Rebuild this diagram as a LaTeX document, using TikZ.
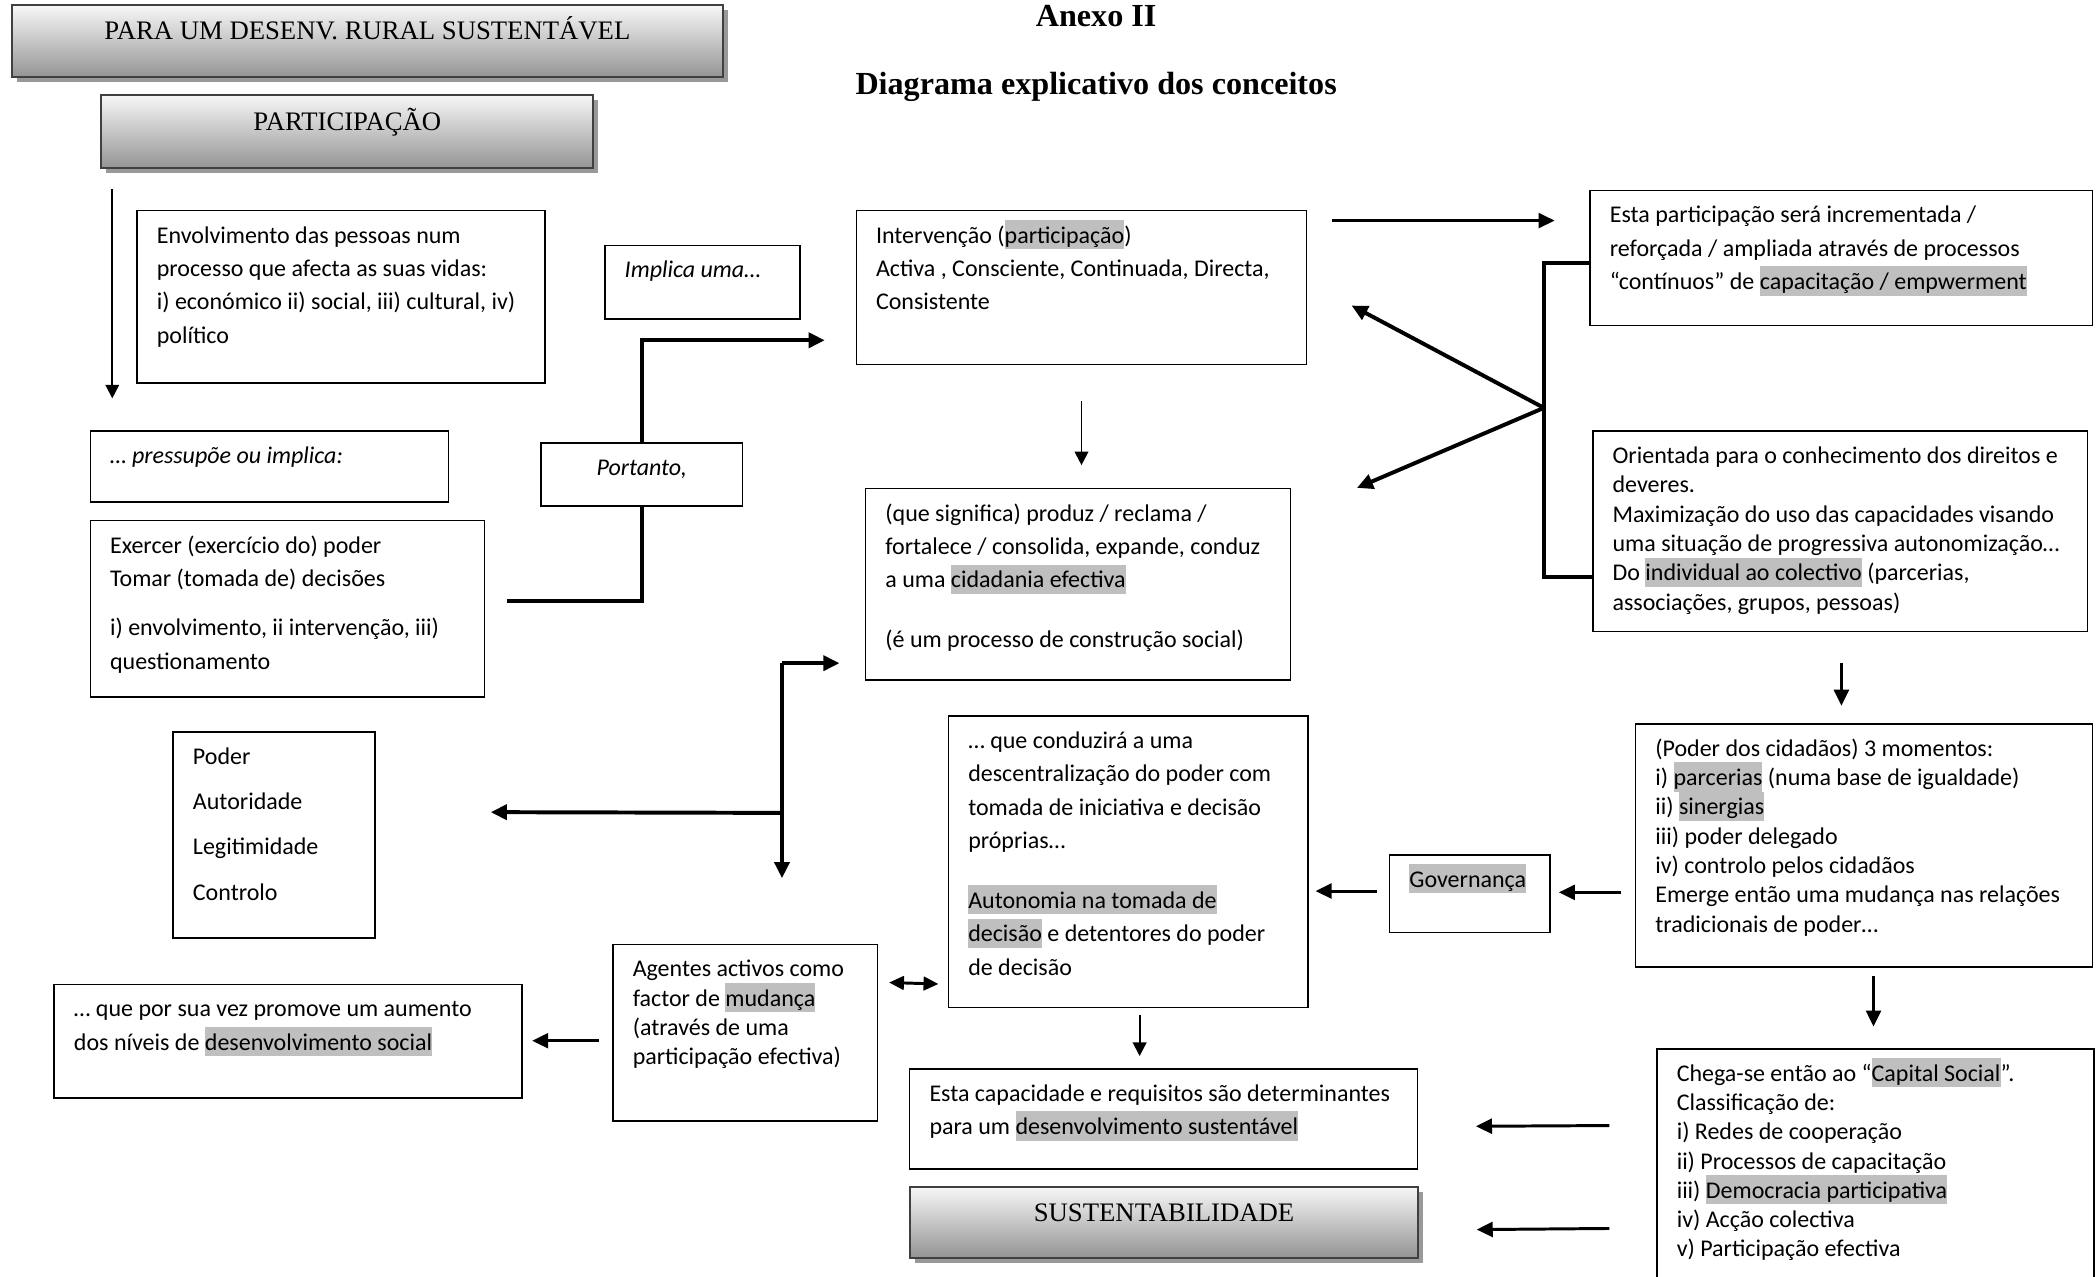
\documentclass[tikz,border=0pt]{standalone}
\usepackage{fontspec}
\setmainfont{Carlito}
\newfontfamily\timesfont{Liberation Serif}
\usetikzlibrary{arrows.meta, positioning, calc, shadows}
\definecolor{hlgrey}{RGB}{191,191,191}
\newdimen\upx
\upx=0.19mm
\newcommand{\corpo}{\fontsize{9.7pt}{13.5pt}\selectfont}
\newcommand{\corpotight}{\fontsize{9.7pt}{11.85pt}\selectfont}
% highlighted words, as in the source document
\newcommand{\hlt}[1]{\smash{\setlength{\fboxsep}{0pt}\colorbox{hlgrey}{\rule[-2.4pt]{0pt}{11.8pt}#1}}}
\newcommand{\tline}[1]{\hbox to\hsize{\rule{0pt}{7.1pt}#1\hss}}
\newcommand{\txt}[3]{\parbox[t][\dimexpr#2\upx-12pt\relax][t]{\dimexpr#1\upx-16pt\relax}{#3}}
\tikzset{
    diagram/.style={x=0.19mm, y=-0.19mm},
    textbox/.style={draw, line width=0.6pt, anchor=north west, inner xsep=8pt, inner ysep=6pt, font=\corpo},
    tightbox/.style={textbox, font=\corpotight},
    greybox/.style={draw=black!75, line width=0.9pt, anchor=north west, top color=black!3, bottom color=black!42,
        drop shadow={shadow xshift=2pt, shadow yshift=-2pt, fill=black!40, opacity=1},
        font=\timesfont\fontsize{10.8pt}{13pt}\selectfont, text height=7pt, text depth=8pt},
    heading/.style={anchor=base, font=\timesfont\bfseries\fontsize{13pt}{15pt}\selectfont},
    flow/.style={-{Triangle[length=5.5pt, width=5.5pt]}, line width=0.8pt},
    midflow/.style={-{Triangle[length=6.5pt, width=6pt]}, line width=1.2pt},
    thickflow/.style={-{Triangle[length=6.5pt, width=6pt]}, line width=1.6pt},
    twoway/.style={{Triangle[length=6pt, width=5.5pt]}-{Triangle[length=6pt, width=5.5pt]}, line width=1.2pt},
    thickline/.style={line width=1.6pt},
}
\begin{document}
\begin{tikzpicture}[diagram]
    \useasboundingbox (0,0) rectangle (1568,955);

    % headings
    \node[heading] (anexo)    at (820,20) {Anexo II};
    \node[heading] (diagrama) at (820,71) {Diagrama explicativo dos conceitos};

    % shaded title boxes
    \node[greybox, minimum width=532*\upx, minimum height=54*\upx] (rural)   at (8,3)    {PARA UM DESENV. RURAL SUSTENTÁVEL};
    \node[greybox, minimum width=368*\upx, minimum height=55*\upx] (partic)  at (75,70)  {PARTICIPAÇÃO};
    \node[greybox, minimum width=380*\upx, minimum height=53*\upx] (sustent) at (680,887) {SUSTENTABILIDADE};

    % left column
    \node[textbox] (envolv) at (102,157) {\txt{305}{129}{%
        \tline{Envolvimento das pessoas num}
        \tline{processo que afecta as suas vidas:}
        \tline{i) económico ii) social, iii) cultural, iv)}
        \tline{político}}};
    \node[textbox] (implica)   at (452,183) {\txt{146}{55}{\tline{\textit{Implica uma…}}}};
    \node[textbox] (pressupoe) at (67,322)  {\txt{268}{53}{\tline{\textit{… pressupõe ou implica:}}}};
    \node[textbox] (portanto)  at (404,331) {\txt{151}{47}{\tline{\hfil\textit{Portanto,}}}};
    \node[textbox] (exercer)   at (67,389)  {\txt{295}{132}{%
        \tline{Exercer (exercício do) poder}
        \tline{Tomar (tomada de) decisões}
        \vskip6.5pt
        \tline{i) envolvimento, ii intervenção, iii)}
        \tline{questionamento}}};
    \node[textbox, font=\fontsize{9.7pt}{18.3pt}\selectfont] (lista) at (129,547) {\txt{151}{154}{%
        \tline{Poder}
        \tline{Autoridade}
        \tline{Legitimidade}
        \tline{Controlo}}};
    \node[textbox] (promove) at (40,736) {\txt{350}{85}{%
        \tline{… que por sua vez promove um aumento}
        \tline{dos níveis de \hlt{desenvolvimento social}}}};
    \node[tightbox] (agentes) at (458,706) {\txt{198}{132}{%
        \tline{Agentes activos como}
        \tline{factor de \hlt{mudança}}
        \tline{(através de uma}
        \tline{participação efectiva)}}};

    % middle column
    \node[textbox] (interv) at (640,157) {\txt{337}{115}{%
        \tline{Intervenção (\hlt{participação})}
        \tline{Activa , Consciente, Continuada, Directa,}
        \tline{Consistente}}};
    \node[textbox] (cidadania) at (647,365) {\txt{318}{143}{%
        \tline{(que significa) produz / reclama /}
        \tline{fortalece / consolida, expande, conduz}
        \tline{a uma \hlt{cidadania efectiva}}
        \vskip10.8pt
        \tline{(é um processo de construção social)}}};
    \node[textbox] (descentr) at (709,535) {\txt{269}{218}{%
        \tline{… que conduzirá a uma}
        \tline{descentralização do poder com}
        \tline{tomada de iniciativa e decisão}
        \tline{próprias…}
        \vskip10.8pt
        \tline{\hlt{Autonomia na tomada de}}
        \tline{\hlt{decisão} e detentores do poder}
        \tline{de decisão}}};
    \node[textbox] (escap) at (680,799) {\txt{380}{75}{%
        \tline{Esta capacidade e requisitos são determinantes}
        \tline{para um \hlt{desenvolvimento sustentável}}}};
    \node[textbox] (governanca) at (1039,639) {\txt{120}{58}{\tline{\hlt{Governança}}}};

    % right column
    \node[textbox] (esta) at (1189,142) {\txt{376}{101}{%
        \tline{Esta participação será incrementada /}
        \tline{reforçada / ampliada através de processos}
        \tline{“contínuos” de \hlt{capacitação / empwerment}}}};
    \node[tightbox] (orientada) at (1191,322) {\txt{370}{150}{%
        \tline{Orientada para o conhecimento dos direitos e}
        \tline{deveres.}
        \tline{Maximização do uso das capacidades visando}
        \tline{uma situação de progressiva autonomização…}
        \tline{Do \hlt{individual ao colectivo} (parcerias,}
        \tline{associações, grupos, pessoas)}}};
    \node[tightbox] (poder) at (1223,541) {\txt{342}{182}{%
        \tline{(Poder dos cidadãos) 3 momentos:}
        \tline{i) \hlt{parcerias} (numa base de igualdade)}
        \tline{ii) \hlt{sinergias}}
        \tline{iii) poder delegado}
        \tline{iv) controlo pelos cidadãos}
        \tline{Emerge então uma mudança nas relações}
        \tline{tradicionais de poder…}}};
    \node[tightbox] (capital) at (1239,784) {\txt{327}{200}{%
        \tline{Chega-se então ao “\hlt{Capital Social}”.}
        \tline{Classificação de:}
        \tline{i) Redes de cooperação}
        \tline{ii) Processos de capacitação}
        \tline{iii) \hlt{Democracia participativa}}
        \tline{iv) Acção colectiva}
        \tline{v) Participação efectiva}}};

    % links on the left
    \draw[flow] ($(partic.south west)+(9,15)$) -- ($(pressupoe.north west)+(17,-24)$);
    \draw[thickline] ($(exercer.east)+(16,-6)$) -| (portanto.south);
    \draw[thickflow] (portanto.north) |- ($(interv.west)+(-23,39.5)$);

    % branch from cidadania
    \coordinate (junction) at ($(cidadania.south west)+(-62,-13)$);
    \draw[thickflow] (junction) -- ($(cidadania.south west)+(-19,-13)$);
    \draw[thickflow] (junction) -- ($(agentes.north west)+(127,-49)$);
    \draw[thickflow] ($(junction)+(0,112)$) -- ($(lista.east)+(86,-17)$);
    \draw[midflow] ($(agentes.west)+(-10,6)$) -- ($(promove.east)+(7,-0.5)$);
    \draw[twoway] ($(agentes.north east)+(8,29)$) -- ($(descentr.south west)+(-7,-18)$);

    % middle
    \draw[midflow] ($(interv.north east)+(18,8)$) -- ($(esta.north west)+(-26,23)$);
    \draw[flow] ($(interv.south)+(0,27)$) -- ($(interv.south |- cidadania.north)+(0,-17)$);
    \draw[flow] ($(descentr.south)+(8.5,5)$) -- ($(descentr.south |- escap.north)+(8.5,-9)$);

    % bracket on the right
    \coordinate (fork) at ($(esta.south west)+(-34,61)$);
    \draw[thickline] ($(esta.west)+(0,3.5)$) -| (fork) |- ($(orientada.west)+(0,34)$);
    \draw[thickflow] (fork) -- ($(interv.east)+(33,13.5)$);
    \draw[thickflow] (fork) -- ($(cidadania.north east)+(49,0)$);

    % right column
    \draw[midflow] ($(orientada.south)+(1,23)$) -- ($(orientada.south |- poder.north)+(1,-13)$);
    \draw[midflow] ($(poder.south)+(7,6)$) -- ($(poder.south |- capital.north)+(7,-16)$);
    \draw[midflow] ($(poder.west)+(-10,35)$) -- ($(governanca.east)+(6,-1)$);
    \draw[midflow] ($(governanca.west)+(-9,-2)$) -- ($(descentr.east)+(5,22)$);
    \draw[midflow] ($(capital.north west)+(-35,58)$) -- ($(escap.east)+(43,5.5)$);
    \draw[midflow] ($(capital.north west)+(-35,135)$) -- ($(sustent.east)+(43,5.5)$);
\end{tikzpicture}
\end{document}
